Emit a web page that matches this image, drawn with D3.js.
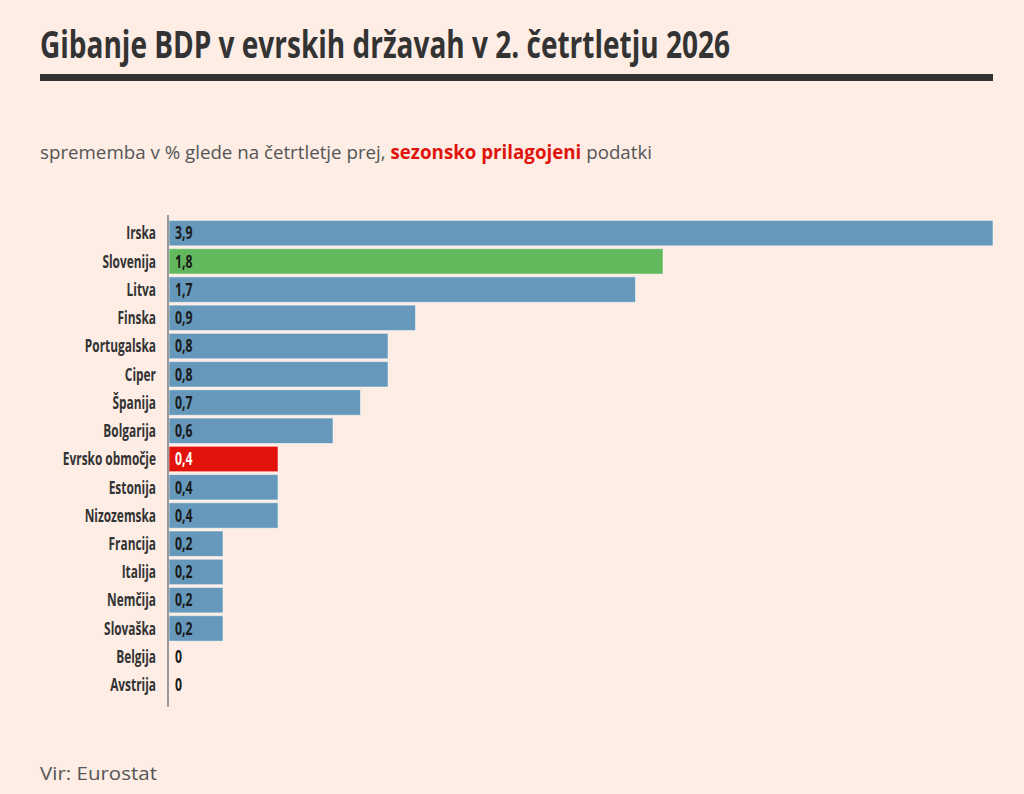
<!DOCTYPE html>
<html><head><meta charset="utf-8">
<script src="https://cdn.jsdelivr.net/npm/d3@7"></script>
<style>
body{margin:0;background:#fdede5;}
text{font-family:"Open Sans","DejaVu Sans",sans-serif;}
</style></head><body>
<svg width="1024" height="794"></svg>
<script>
'use strict';

// data
var countries = ['Irska','Slovenija','Litva','Finska','Portugalska','Ciper','Španija','Bolgarija',
  'Evrsko območje','Estonija','Nizozemska','Francija','Italija','Nemčija','Slovaška','Belgija','Avstrija'];
var values = [3.9,1.8,1.7,0.9,0.8,0.8,0.7,0.6,0.4,0.4,0.4,0.2,0.2,0.2,0.2,0,0];

var svg = d3.select('svg');
svg.append('rect').attr('width',1024).attr('height',794).attr('fill','#fdede5');

// title and rule
svg.append('text').attr('x',40).attr('y',58).attr('font-size',38).attr('font-weight','bold')
  .attr('fill','#333').attr('textLength',690).attr('lengthAdjust','spacingAndGlyphs')
  .text('Gibanje BDP v evrskih državah v 2. četrtletju 2026');
svg.append('rect').attr('x',40).attr('y',74).attr('width',953).attr('height',7).attr('fill','#333');

var sub = svg.append('text').attr('x',40).attr('y',159).attr('font-size',19).attr('fill','#555')
  .attr('textLength',612).attr('lengthAdjust','spacingAndGlyphs');
sub.append('tspan').text('sprememba v % glede na četrtletje prej, ');
sub.append('tspan').attr('fill','#e0140c').attr('font-weight','bold').text('sezonsko prilagojeni');
sub.append('tspan').text(' podatki');

svg.append('text').attr('x',40).attr('y',780).attr('font-size',19).attr('fill','#555')
  .attr('textLength',117).attr('lengthAdjust','spacingAndGlyphs').text('Vir: Eurostat');

// scales
var left = 168;
var x = d3.scaleLinear().domain([0,3]).range([left,993]).clamp(true);
var y = d3.scaleBand().domain(countries).range([219,699]).paddingInner(0.1).paddingOuter(0.05);

function color(d){
  if (d === 'Slovenija') return '#62b95d';
  if (d === 'Evrsko območje') return '#e2130b';
  return '#6598ba';
}

var rows = svg.selectAll('.row').data(countries).enter().append('g').attr('class','row');

rows.filter(function(d,i){ return values[i] > 0; }).append('rect')
  .attr('x', x(0)+1)
  .attr('y', function(d){ return y(d); })
  .attr('width', function(d){ return x(values[countries.indexOf(d)]) - x(0) - 1; })
  .attr('height', y.bandwidth())
  .attr('fill', color)
  .attr('stroke','#fff').attr('stroke-opacity',0.5);

// labels drawn narrow to mimic a condensed face
rows.append('text')
  .attr('transform', function(d){ return 'translate(' + (left-12) + ',' + (y(d)+y.bandwidth()/2) + ') scale(0.66,1)'; })
  .attr('dy','0.35em').attr('text-anchor','end').attr('font-size',18).attr('font-weight','bold')
  .attr('fill','#333').text(function(d){ return d; });

rows.append('text')
  .attr('transform', function(d){ return 'translate(' + (left+7) + ',' + (y(d)+y.bandwidth()/2) + ') scale(0.68,1)'; })
  .attr('dy','0.35em').attr('font-size',18).attr('font-weight','bold')
  .attr('fill', function(d){ return d === 'Evrsko območje' ? '#fff' : '#1a1a1a'; })
  .text(function(d,i){ return String(values[i]).replace('.',','); });

// axis line
svg.append('line').attr('x1',left).attr('x2',left).attr('y1',215).attr('y2',707)
  .attr('stroke','#999').attr('stroke-width',2);
</script></body></html>
